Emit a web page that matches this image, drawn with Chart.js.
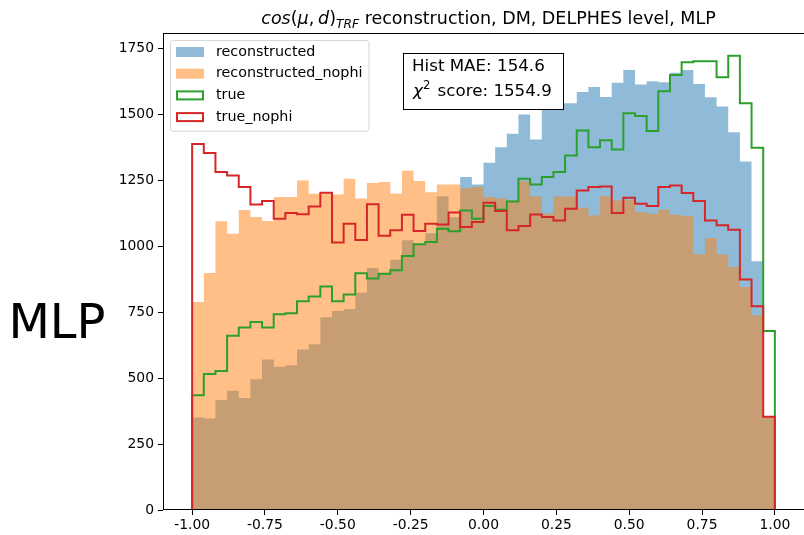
<!DOCTYPE html>
<html>
<head>
<meta charset="utf-8">
<script src="https://cdn.jsdelivr.net/npm/chart.js@4/dist/chart.umd.min.js"></script>
<style>
  html, body { margin: 0; padding: 0; background: #fff; }
  #wrap { width: 804px; height: 535px; position: relative; }
</style>
</head>
<body>
<div id="wrap"><canvas id="c" width="804" height="535"></canvas></div>
<script>
// Histogram binning: 50 bins on [-1, 1]
const binLow = -1;
const binHigh = 1;
const binCount = 50;

// Bin counts per series
const reconstructed = [
  351, 347, 417, 452, 425, 496, 571, 543, 549, 609,
  629, 731, 755, 762, 824, 918, 896, 949, 1023, 1008,
  1050, 1190, 1110, 1263, 1235, 1317, 1376, 1427, 1500, 1405,
  1553, 1543, 1543, 1585, 1604, 1566, 1620, 1669, 1614, 1626,
  1622, 1658, 1669, 1616, 1565, 1530, 1433, 1322, 943, 356
];
const reconstructedNophi = [
  789, 899, 1095, 1048, 1138, 1111, 1096, 1187, 1187, 1250,
  1199, 1200, 1197, 1256, 1181, 1240, 1244, 1200, 1287, 1248,
  1205, 1235, 1235, 1220, 1225, 1187, 1181, 1175, 1247, 1189,
  1124, 1189, 1189, 1146, 1117, 1190, 1174, 1177, 1130, 1124,
  1140, 1120, 1115, 970, 1032, 970, 922, 846, 739, 354
];
const trueDist = [
  435, 516, 527, 661, 692, 713, 692, 742, 746, 792,
  810, 848, 792, 817, 898, 878, 896, 909, 963, 1008,
  1016, 1067, 1057, 1136, 1105, 1153, 1139, 1170, 1256, 1235,
  1263, 1282, 1345, 1439, 1376, 1402, 1367, 1505, 1494, 1437,
  1588, 1650, 1698, 1702, 1702, 1641, 1723, 1543, 1374, 679
];
const trueNophi = [
  1388, 1354, 1282, 1269, 1225, 1159, 1172, 1105, 1126, 1122,
  1151, 1203, 1015, 1086, 1024, 1160, 1040, 1061, 1120, 1058,
  1086, 1083, 1128, 1073, 1092, 1165, 1134, 1061, 1077, 1121,
  1111, 1098, 1143, 1212, 1225, 1227, 1126, 1184, 1162, 1153,
  1225, 1231, 1202, 1172, 1098, 1080, 1063, 874, 773, 354
];

const seriesLabels = ['reconstructed', 'reconstructed_nophi', 'true', 'true_nophi'];
const xTickValues = [-1.0, -0.75, -0.5, -0.25, 0.0, 0.25, 0.5, 0.75, 1.0];
const yTickValues = [0, 250, 500, 750, 1000, 1250, 1500, 1750];
const histMAE = 154.6;
const chi2Score = 1554.9;
const rowLabel = 'MLP';

const FONT = "'DejaVu Sans', 'Liberation Sans', sans-serif";
const C_BLUE = 'rgba(31,119,180,0.5)';
const C_ORANGE = 'rgba(255,127,14,0.5)';
const C_GREEN = '#2ca02c';
const C_RED = '#d62728';

const edges = Array.from({ length: binCount + 1 }, (_, i) => binLow + i * (binHigh - binLow) / binCount);

// Outline of a histogram: up from the baseline, across each bin, back down
function stepPoints(values) {
  const pts = [{ x: edges[0], y: 0 }];
  values.forEach((v, i) => pts.push({ x: edges[i], y: v }));
  pts.push({ x: edges[binCount], y: values[values.length - 1] });
  pts.push({ x: edges[binCount], y: 0 });
  return pts;
}

const allValues = reconstructed.concat(reconstructedNophi, trueDist, trueNophi);
const yMax = Math.max(...allValues) * 1.05;
const xPad = (binHigh - binLow) * 0.05;

// Draws a run of text pieces (normal / italic / sub / super) starting at x
function drawRich(ctx, pieces, x, y, size) {
  let cx = x;
  for (const p of pieces) {
    const s = p.scale ? size * p.scale : size;
    ctx.font = `${p.italic ? 'italic ' : ''}${s}px ${FONT}`;
    const dy = p.shift ? p.shift * size : 0;
    if (p.text.trim().length) ctx.fillText(p.text, cx, y + dy);
    cx += ctx.measureText(p.text).width + (p.after ? p.after * size : 0);
  }
  return cx - x;
}
function measureRich(ctx, pieces, size) {
  let w = 0;
  for (const p of pieces) {
    const s = p.scale ? size * p.scale : size;
    ctx.font = `${p.italic ? 'italic ' : ''}${s}px ${FONT}`;
    w += ctx.measureText(p.text).width + (p.after ? p.after * size : 0);
  }
  return w;
}

const decorations = {
  id: 'decorations',
  afterDraw(chart) {
    const { ctx, chartArea: a } = chart;
    ctx.save();

    // frame around the axes
    ctx.strokeStyle = '#000';
    ctx.lineWidth = 1;
    ctx.strokeRect(Math.round(a.left) + 0.5, Math.round(a.top) + 0.5,
      Math.round(a.right - a.left), Math.round(a.bottom - a.top) - 1);

    // title with math-style prefix
    const titleSize = 17.5;
    const titlePieces = [
      { text: 'cos', italic: true },
      { text: '(' },
      { text: 'μ', italic: true },
      { text: ',', after: 0.22 },
      { text: 'd', italic: true },
      { text: ')' },
      { text: 'TRF', italic: true, scale: 0.7, shift: 0.22 },
      { text: ' reconstruction, DM, DELPHES level, MLP' }
    ];
    ctx.fillStyle = '#000';
    ctx.textBaseline = 'alphabetic';
    ctx.textAlign = 'left';
    const tw = measureRich(ctx, titlePieces, titleSize);
    drawRich(ctx, titlePieces, (a.left + a.right) / 2 + 5 - tw / 2, a.top - 9, titleSize);

    // legend (upper left)
    const fs = 14.3;
    ctx.font = `${fs}px ${FONT}`;
    const maxW = Math.max(...seriesLabels.map(t => ctx.measureText(t).width));
    const lx = a.left + 7, ly = a.top + 7;
    const rowH = 21.7;
    const lw = 6 + 28 + 12 + maxW + 6;
    const lh = 4 * rowH + 4;
    ctx.beginPath();
    ctx.roundRect(lx + 0.5, ly + 0.5, lw, lh, 3);
    ctx.fillStyle = 'rgba(255,255,255,0.8)';
    ctx.fill();
    ctx.strokeStyle = '#d6d6d6';
    ctx.lineWidth = 1;
    ctx.stroke();
    const handles = [
      { fill: C_BLUE }, { fill: C_ORANGE }, { stroke: C_GREEN }, { stroke: C_RED }
    ];
    seriesLabels.forEach((label, i) => {
      const cy = ly + 12 + i * rowH;
      const hx = lx + 6, hw = 28, hh = 10;
      const h = handles[i];
      if (h.fill) {
        ctx.fillStyle = h.fill;
        ctx.fillRect(hx, cy - hh / 2, hw, hh);
      } else {
        ctx.strokeStyle = h.stroke;
        ctx.lineWidth = 2;
        ctx.strokeRect(hx + 1, cy - hh / 2 + 1, hw - 2, hh - 2);
      }
      ctx.fillStyle = '#000';
      ctx.font = `${fs}px ${FONT}`;
      ctx.textBaseline = 'middle';
      ctx.fillText(label, hx + hw + 12, cy);
    });

    // score box
    const bs = 16.7;
    const bx = a.left + 240, by = a.top + 20, bw = 160, bh = 56;
    ctx.fillStyle = '#fff';
    ctx.fillRect(bx, by, bw, bh);
    ctx.strokeStyle = '#000';
    ctx.lineWidth = 1;
    ctx.strokeRect(Math.round(bx) + 0.5, Math.round(by) + 0.5, bw, bh);
    ctx.fillStyle = '#000';
    ctx.textBaseline = 'alphabetic';
    ctx.font = `${bs}px ${FONT}`;
    ctx.fillText(`Hist MAE: ${histMAE}`, bx + 9, by + 17.5);
    drawRich(ctx, [
      { text: 'χ', italic: true },
      { text: '2', scale: 0.7, shift: -0.42, after: 0.12 },
      { text: ` score: ${chi2Score}` }
    ], bx + 10, by + 43, bs);

    // row label
    ctx.font = `48px ${FONT}`;
    ctx.textAlign = 'center';
    ctx.fillText(rowLabel, 57, 338);
    ctx.restore();
  }
};

const tickFont = { family: FONT, size: 13.9 };

new Chart(document.getElementById('c'), {
  type: 'line',
  data: {
    datasets: [
      {
        label: seriesLabels[0], data: stepPoints(reconstructed), stepped: 'before',
        fill: 'origin', backgroundColor: C_BLUE, borderColor: 'rgba(0,0,0,0)', borderWidth: 1,
        pointRadius: 0, order: 4
      },
      {
        label: seriesLabels[1], data: stepPoints(reconstructedNophi), stepped: 'before',
        fill: 'origin', backgroundColor: C_ORANGE, borderColor: 'rgba(0,0,0,0)', borderWidth: 1,
        pointRadius: 0, order: 3
      },
      {
        label: seriesLabels[2], data: stepPoints(trueDist), stepped: 'before',
        fill: false, borderColor: C_GREEN, borderWidth: 2, borderJoinStyle: 'miter',
        pointRadius: 0, order: 2
      },
      {
        label: seriesLabels[3], data: stepPoints(trueNophi), stepped: 'before',
        fill: false, borderColor: C_RED, borderWidth: 2, borderJoinStyle: 'miter',
        pointRadius: 0, order: 1
      }
    ]
  },
  options: {
    responsive: false,
    animation: false,
    events: [],
    layout: { padding: { top: 33, left: 0, right: 0, bottom: 0 } },
    plugins: { legend: { display: false }, tooltip: { enabled: false }, title: { display: false } },
    scales: {
      x: {
        type: 'linear',
        min: binLow - xPad,
        max: binHigh + xPad,
        afterBuildTicks: s => { s.ticks = xTickValues.map(v => ({ value: v })); },
        afterFit: s => { s.height = 25; },
        ticks: { font: tickFont, color: '#000', padding: 2, maxRotation: 0, callback: v => Number(v).toFixed(2) },
        grid: { display: true, drawOnChartArea: false, drawTicks: true, tickLength: 5, tickWidth: 1, tickColor: '#000' },
        border: { display: false }
      },
      y: {
        type: 'linear',
        min: 0,
        max: yMax,
        afterBuildTicks: s => { s.ticks = yTickValues.map(v => ({ value: v })); },
        afterFit: s => { s.width = 163; },
        ticks: { font: tickFont, color: '#000', padding: 4, callback: v => String(v) },
        grid: { display: true, drawOnChartArea: false, drawTicks: true, tickLength: 5, tickWidth: 1, tickColor: '#000' },
        border: { display: false }
      }
    }
  },
  plugins: [decorations]
});
</script>
</body>
</html>
